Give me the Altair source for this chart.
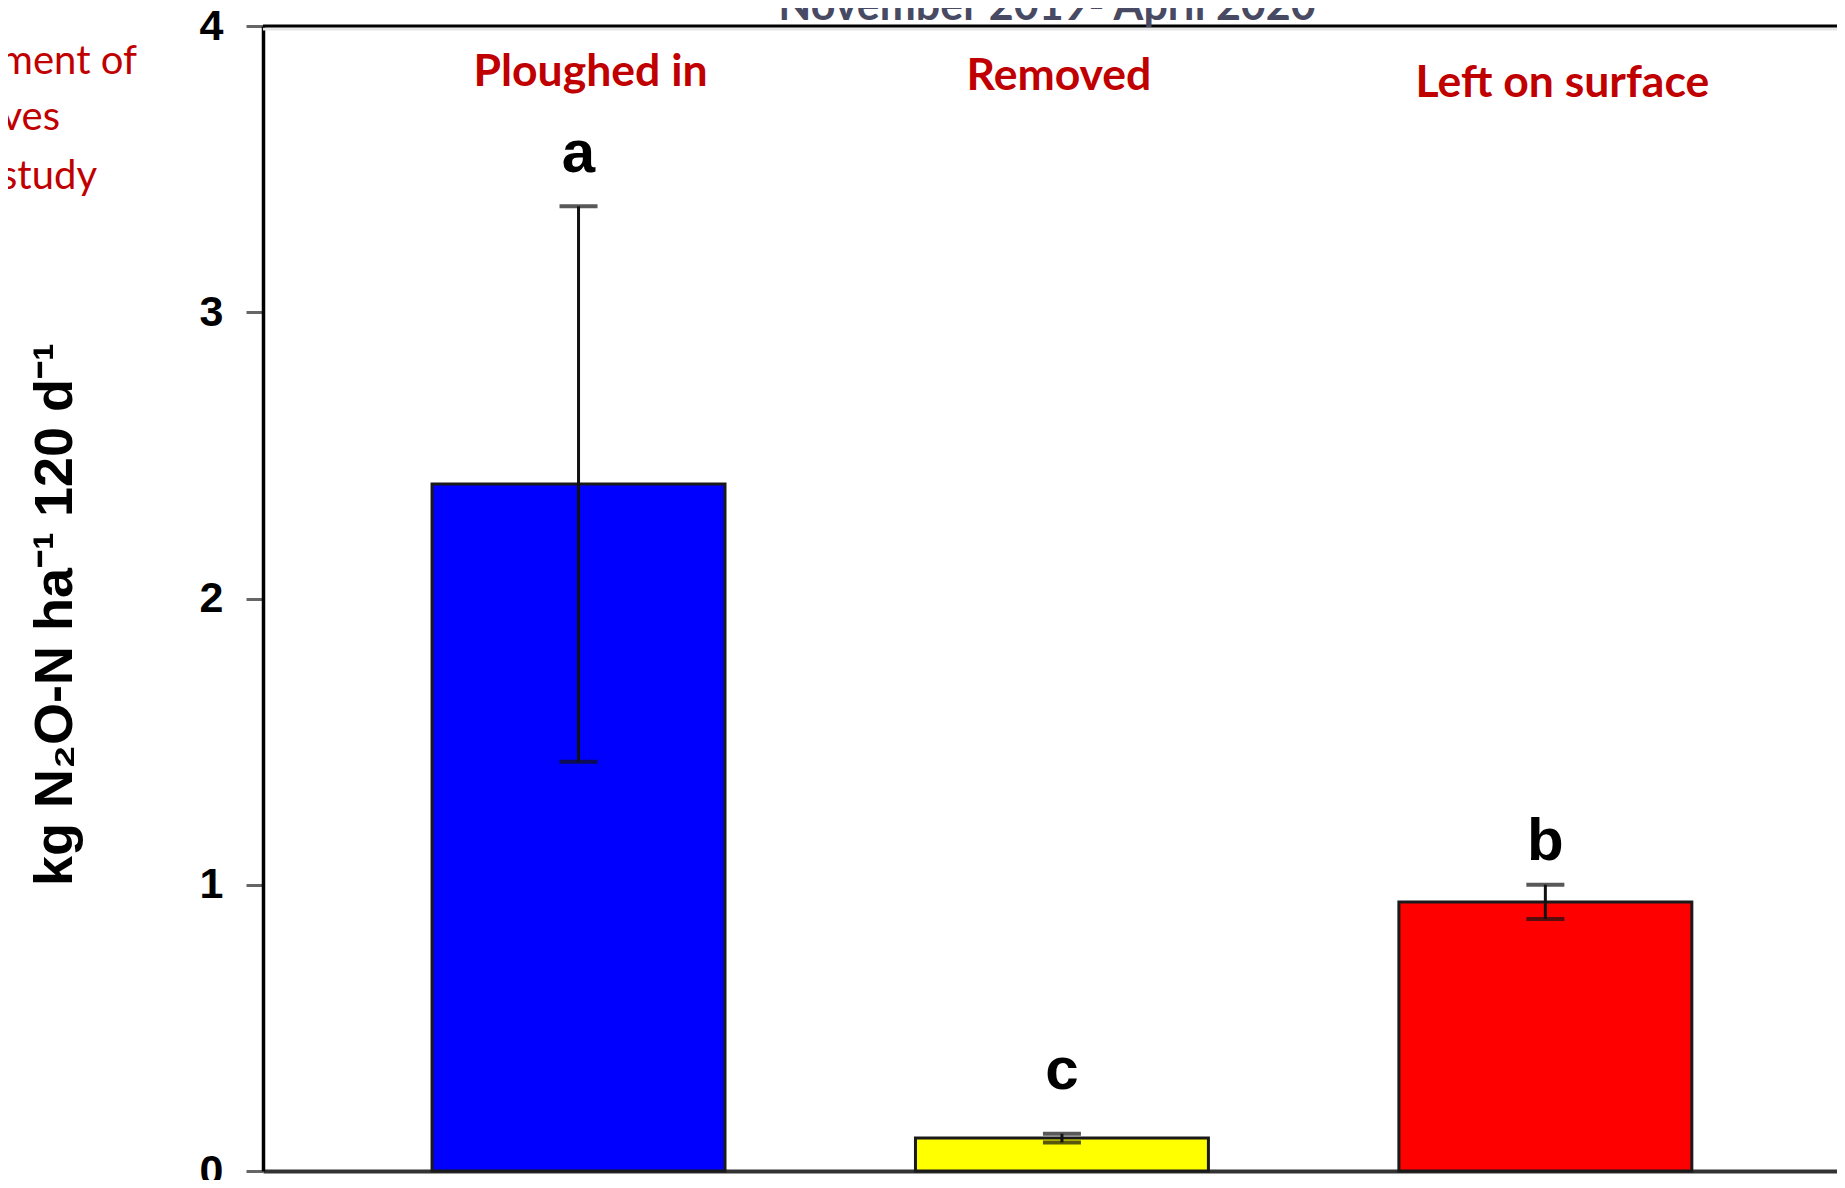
import altair as alt
import pandas as pd

# ---- data ----
categories = ["Ploughed in", "Removed", "Left on surface"]
emissions = [2.40, 0.115, 0.94]
errors = [0.97, 0.015, 0.06]
letters = ["a", "c", "b"]
bar_colors = ["#0000ff", "#ffff00", "#ff0000"]
y_ticks = [0, 1, 2, 3, 4]
period_title = "November 2019- April 2020"
side_text = ["ment of", "ves", "study"]
y_title = "kg N\u2082O-N ha\u207b\u00b9 120 d\u207b\u00b9"

df = pd.DataFrame({"category": categories, "value": emissions,
                   "err": errors, "letter": letters})
df["lo"] = df["value"] - df["err"]
df["hi"] = df["value"] + df["err"]

W, H = 1574, 1145
ARIAL = "Liberation Sans, Arial, sans-serif"
CALIBRI = "Lato, Carlito, Calibri, sans-serif"
DARKRED = "#c00000"

x_enc = alt.X(
    "category:N", sort=categories,
    scale=alt.Scale(paddingInner=0.394, paddingOuter=0.325, align=0.538),
    axis=alt.Axis(labels=False, ticks=False, title=None,
                  domainColor="#333333", domainWidth=4),
)

y_axis = alt.Axis(
    values=y_ticks, format="d", title=y_title, grid=False,
    domainColor="#000000", domainWidth=3.5,
    tickColor="#666666", tickWidth=3, tickSize=17,
    labelFont=ARIAL, labelFontSize=43, labelFontWeight="bold",
    labelColor="#000000", labelPadding=23, labelFlush=False,
    labelOverlap=False,
    titleFont=ARIAL, titleFontSize=54, titleFontWeight="bold",
    titleColor="#000000", titleAngle=270, titleX=-192, titleY=588,
    titleAlign="center", titleBaseline="alphabetic",
)

base = alt.Chart(df)

bars = base.mark_bar(stroke="#1a1a1a", strokeWidth=3).encode(
    x=x_enc,
    y=alt.Y("value:Q", scale=alt.Scale(domain=[0, 4], nice=False), axis=y_axis),
    color=alt.Color("category:N",
                    scale=alt.Scale(domain=categories, range=bar_colors),
                    legend=None),
)

err_line = base.mark_rule(color="#111111", strokeWidth=3).encode(
    x=x_enc, y="lo:Q", y2="hi:Q")
cap_hi = base.mark_tick(color="#111111", thickness=4, size=38).encode(
    x=x_enc, y="hi:Q")
cap_lo = base.mark_tick(color="#111111", thickness=4, size=38).encode(
    x=x_enc, y="lo:Q")

# small per-category nudges of the slide annotations (pixels)
letter_dy = {"Ploughed in": -34, "Removed": -45, "Left on surface": -25}
label_shift = {"Ploughed in": (12, -6), "Removed": (-3, -2),
               "Left on surface": (17, 5)}

letter_layers = [
    base.transform_filter(alt.datum.category == c).mark_text(
        font=ARIAL, fontSize=60, fontWeight="bold", color="#000000",
        baseline="alphabetic", dy=letter_dy[c],
    ).encode(x=x_enc, y="hi:Q", text="letter:N")
    for c in categories
]

label_layers = [
    base.transform_filter(alt.datum.category == c).mark_text(
        font=CALIBRI, fontSize=44.5, fontWeight="bold", color=DARKRED,
        baseline="alphabetic", dx=label_shift[c][0], dy=label_shift[c][1],
    ).encode(x=x_enc, y=alt.value(66), text="category:N")
    for c in categories
]

one = alt.Data(values=[{}])
top_line = alt.Chart(one).mark_rule(color="#000000", strokeWidth=3).encode(
    x=alt.value(0), x2=alt.value(W), y=alt.value(0))
top_shadow = alt.Chart(one).mark_rule(color="#e6e6e6", strokeWidth=3).encode(
    x=alt.value(0), x2=alt.value(W), y=alt.value(3))

title_text = alt.Chart(alt.Data(values=[{"t": period_title}])).mark_text(
    font=CALIBRI, fontSize=43, fontWeight="bold", color="#474a62",
    baseline="alphabetic", align="center",
).encode(x=alt.value(784), y=alt.value(-6), text="t:N")

side_pos = [(-126, 48), (-203, 104), (-166, 163)]
side_layers = [
    alt.Chart(alt.Data(values=[{"t": t}])).mark_text(
        font=CALIBRI, fontSize=40, color=DARKRED,
        baseline="alphabetic", align="right",
    ).encode(x=alt.value(px), y=alt.value(py), text="t:N")
    for t, (px, py) in zip(side_text, side_pos)
]

chart = alt.layer(
    bars, err_line, cap_hi, cap_lo, *letter_layers, *label_layers,
    top_shadow, top_line, title_text, *side_layers,
).properties(
    width=W, height=H,
    padding={"left": 255, "top": 18, "right": 0, "bottom": 9},
    autosize=alt.AutoSizeParams(type="none"),
).configure_view(stroke=None)

chart.save("out.html", embed_options={"renderer": "svg", "actions": False})
